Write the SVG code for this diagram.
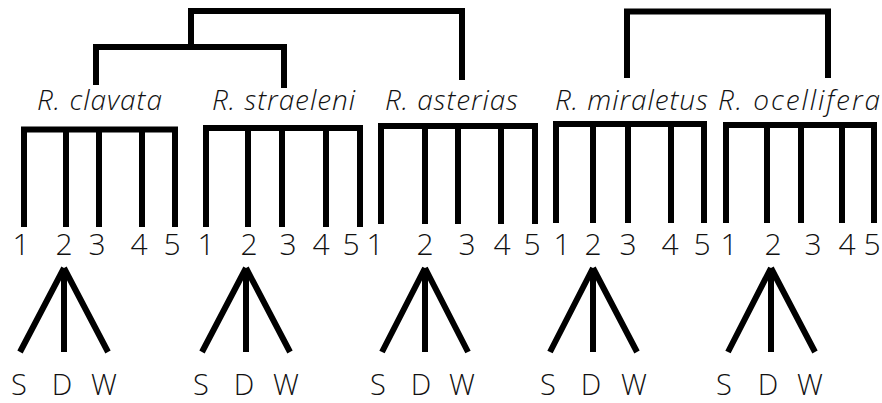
<svg xmlns="http://www.w3.org/2000/svg" width="882" height="403" viewBox="0 0 882 403">
<style>
.ln{fill:none;stroke:#000;stroke-width:6;stroke-linejoin:miter;stroke-linecap:butt}
.sp{font-family:"Open Sans","Noto Sans","Liberation Sans",sans-serif;font-style:italic;font-weight:300;font-size:28px;fill:#111}
.num{font-family:"Open Sans","Noto Sans","Liberation Sans",sans-serif;font-weight:300;font-size:30px;fill:#111;text-anchor:middle}
.sdw{font-family:"Open Sans","Noto Sans","Liberation Sans",sans-serif;font-weight:300;font-size:29px;fill:#111;text-anchor:middle}
</style>
<rect width="882" height="403" fill="#fff"/>
<g id="connectors">
<path class="ln" d="M191,45 V11 H462 V80"/>
<path class="ln" d="M96,85 V47 H284 V88"/>
<path class="ln" d="M627,78 V11.5 H828 V78"/>
</g>
<g id="clavata">
<text class="sp" x="37" y="110" textLength="125">R. clavata</text>
<path class="ln" d="M24,227 V129.5 H175 V227 M66,129.5 V227 M99,129.5 V227 M142,129.5 V227"/>
<text class="num" x="21" y="255">1</text><text class="num" x="64" y="255">2</text><text class="num" x="97" y="255">3</text><text class="num" x="139" y="255">4</text><text class="num" x="172" y="255">5</text>
<path class="ln" d="M64,268 L20,352 M64,268 V352 M64,268 L108,352"/>
<text class="sdw" x="19" y="395">S</text><text class="sdw" x="62" y="395">D</text><text class="sdw" x="104" y="395">W</text>
</g>
<g id="straeleni">
<text class="sp" x="212" y="110" textLength="143">R. straeleni</text>
<path class="ln" d="M206,227 V128 H360 V227 M248,128 V227 M282,128 V227 M326,128 V227"/>
<text class="num" x="206" y="255">1</text><text class="num" x="249" y="255">2</text><text class="num" x="288" y="255">3</text><text class="num" x="321" y="255">4</text><text class="num" x="351" y="255">5</text>
<path class="ln" d="M246,268 L202,352 M246,268 V352 M246,268 L290,352"/>
<text class="sdw" x="201" y="395">S</text><text class="sdw" x="244" y="395">D</text><text class="sdw" x="286" y="395">W</text>
</g>
<g id="asterias">
<text class="sp" x="385" y="110" textLength="133">R. asterias</text>
<path class="ln" d="M381,224 V126 H535 V224 M425,126 V224 M458,126 V224 M501,126 V224"/>
<text class="num" x="375" y="255">1</text><text class="num" x="425" y="255">2</text><text class="num" x="467" y="255">3</text><text class="num" x="502" y="255">4</text><text class="num" x="532" y="255">5</text>
<path class="ln" d="M425,268 L382,352 M425,268 V352 M425,268 L468,352"/>
<text class="sdw" x="378" y="395">S</text><text class="sdw" x="421" y="395">D</text><text class="sdw" x="462" y="395">W</text>
</g>
<g id="miraletus">
<text class="sp" x="555" y="110" textLength="153">R. miraletus</text>
<path class="ln" d="M556,223 V124 H704 V223 M593,124 V223 M628,124 V223 M671,124 V223"/>
<text class="num" x="562" y="255">1</text><text class="num" x="593" y="255">2</text><text class="num" x="628" y="255">3</text><text class="num" x="670" y="255">4</text><text class="num" x="702" y="255">5</text>
<path class="ln" d="M593,268 L550,352 M593,268 V352 M593,268 L637,352"/>
<text class="sdw" x="548" y="395">S</text><text class="sdw" x="591" y="395">D</text><text class="sdw" x="634" y="395">W</text>
</g>
<g id="ocellifera">
<text class="sp" x="718" y="110" textLength="162">R. ocellifera</text>
<path class="ln" d="M726,223 V125 H874 V223 M767,125 V223 M801,125 V223 M842,125 V223"/>
<text class="num" x="729" y="255">1</text><text class="num" x="773" y="255">2</text><text class="num" x="813" y="255">3</text><text class="num" x="847" y="255">4</text><text class="num" x="872" y="255">5</text>
<path class="ln" d="M771,268 L728,352 M771,268 V352 M771,268 L815,352"/>
<text class="sdw" x="724" y="395">S</text><text class="sdw" x="768" y="395">D</text><text class="sdw" x="810" y="395">W</text>
</g>
</svg>
